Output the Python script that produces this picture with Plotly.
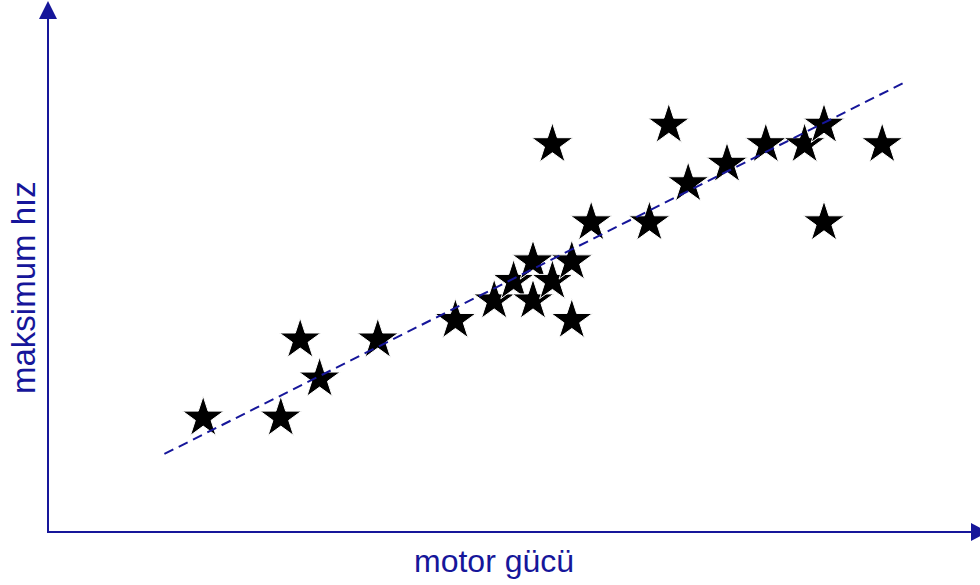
import plotly.graph_objects as go

# data
motor_gucu = [8, 12, 13, 14, 17, 21, 23, 24, 25, 25, 26, 26, 27, 27, 28, 31, 32, 33, 35, 37, 39, 40, 40, 43]
maksimum_hiz = [6, 6, 10, 8, 10, 11, 12, 13, 14, 12, 13, 20, 14, 11, 16, 16, 21, 18, 19, 20, 20, 21, 16, 20]
trend_x = [6.0, 44.2]
trend_y = [4.15, 23.2]

x_label = "motor gücü"
y_label = "maksimum hız"

W, H = 980, 585
NAVY = "#16169a"

def px(x):
    return x / W

def py(y):
    return 1 - y / H

fig = go.Figure()
fig.add_trace(go.Scatter(
    x=motor_gucu, y=maksimum_hiz, mode="markers",
    marker=dict(symbol="star", size=31, color="black",
                line=dict(color="white", width=1)),
    showlegend=False, hoverinfo="skip"))
fig.add_trace(go.Scatter(
    x=trend_x, y=trend_y, mode="lines",
    line=dict(color=NAVY, width=2, dash="10px,6px"),
    showlegend=False, hoverinfo="skip"))

shapes = [
    # y axis
    dict(type="line", xref="paper", yref="paper", x0=px(48), x1=px(48), y0=py(533), y1=py(14),
         line=dict(color=NAVY, width=2)),
    dict(type="path", xref="paper", yref="paper",
         path=f"M {px(48)} {py(1)} L {px(39)} {py(19)} L {px(57)} {py(19)} Z",
         fillcolor=NAVY, line=dict(color=NAVY, width=0)),
    # x axis
    dict(type="line", xref="paper", yref="paper", x0=px(47), x1=px(975), y0=py(532), y1=py(532),
         line=dict(color=NAVY, width=2)),
    dict(type="path", xref="paper", yref="paper",
         path=f"M {px(988)} {py(532)} L {px(971)} {py(523)} L {px(971)} {py(541)} Z",
         fillcolor=NAVY, line=dict(color=NAVY, width=0)),
]

annotations = [
    dict(text=x_label, xref="paper", yref="paper", x=px(494), y=py(561), showarrow=False,
         xanchor="center", yanchor="middle",
         font=dict(family="Liberation Sans, Arial", size=32, color=NAVY)),
    dict(text=y_label, xref="paper", yref="paper", x=px(23), y=py(288), showarrow=False,
         textangle=-90, xanchor="center", yanchor="middle",
         font=dict(family="Liberation Sans, Arial", size=33, color=NAVY)),
]

fig.update_layout(
    width=W, height=H,
    margin=dict(l=0, r=0, t=0, b=0),
    paper_bgcolor="white", plot_bgcolor="white",
    xaxis=dict(range=[-48 / 19.4, (W - 48) / 19.4], visible=False, fixedrange=True),
    yaxis=dict(range=[(535 - H) / 19.53, 535 / 19.53], visible=False, fixedrange=True),
    shapes=shapes, annotations=annotations,
)

fig.write_html("out.html", config={"displayModeBar": False},
               post_script="document.body.style.margin='0';document.body.style.padding='0';")
